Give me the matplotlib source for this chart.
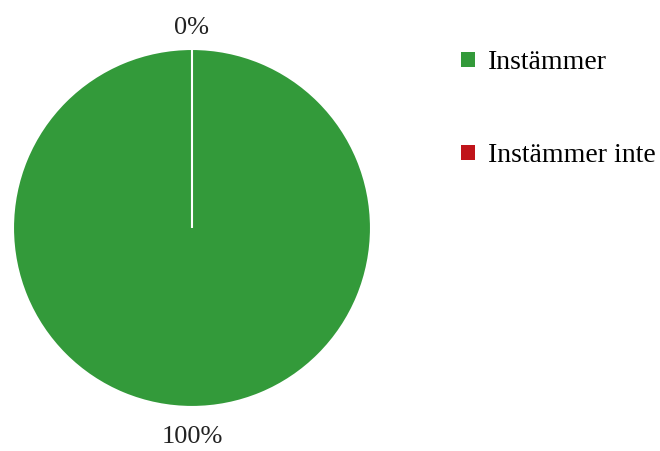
import matplotlib
matplotlib.use("Agg")
import matplotlib.pyplot as plt

categories = ["Instämmer", "Instämmer inte"]
values = [100, 0]
pct_labels = ["100%", "0%"]
colors = ["#339A3A", "#C0141A"]

plt.rcParams['font.family'] = ['Liberation Serif', 'DejaVu Serif']

fig = plt.figure(figsize=(6.6, 4.51), dpi=100)
ax = fig.add_axes([0.0197, 0.0976, 0.5424, 0.7938])
wedges, texts = ax.pie(values, labels=pct_labels, colors=colors, startangle=90,
                       counterclock=False, labeldistance=1.17,
                       wedgeprops=dict(edgecolor="white", linewidth=1.5),
                       textprops=dict(fontsize=19, color="#222222"))
for t in texts:
    t.set_horizontalalignment("center")
    t.set_verticalalignment("center")
# top label sits a little closer to the pie
x0, y0 = texts[1].get_position()
texts[1].set_position((x0, y0 * 1.12 / 1.17))
ax.set_xlim(-1, 1)
ax.set_ylim(-1, 1)
ax.set_aspect("equal")
ax.axis("off")

leg = fig.legend(wedges, categories, loc="upper left", bbox_to_anchor=(0.682, 0.913),
                 frameon=False, fontsize=20, handlelength=0.5, handleheight=0.5,
                 handletextpad=0.45, labelspacing=2.45, borderaxespad=0)
for h in leg.legend_handles:
    h.set_edgecolor("none")

fig.savefig("out.png", dpi=100)
